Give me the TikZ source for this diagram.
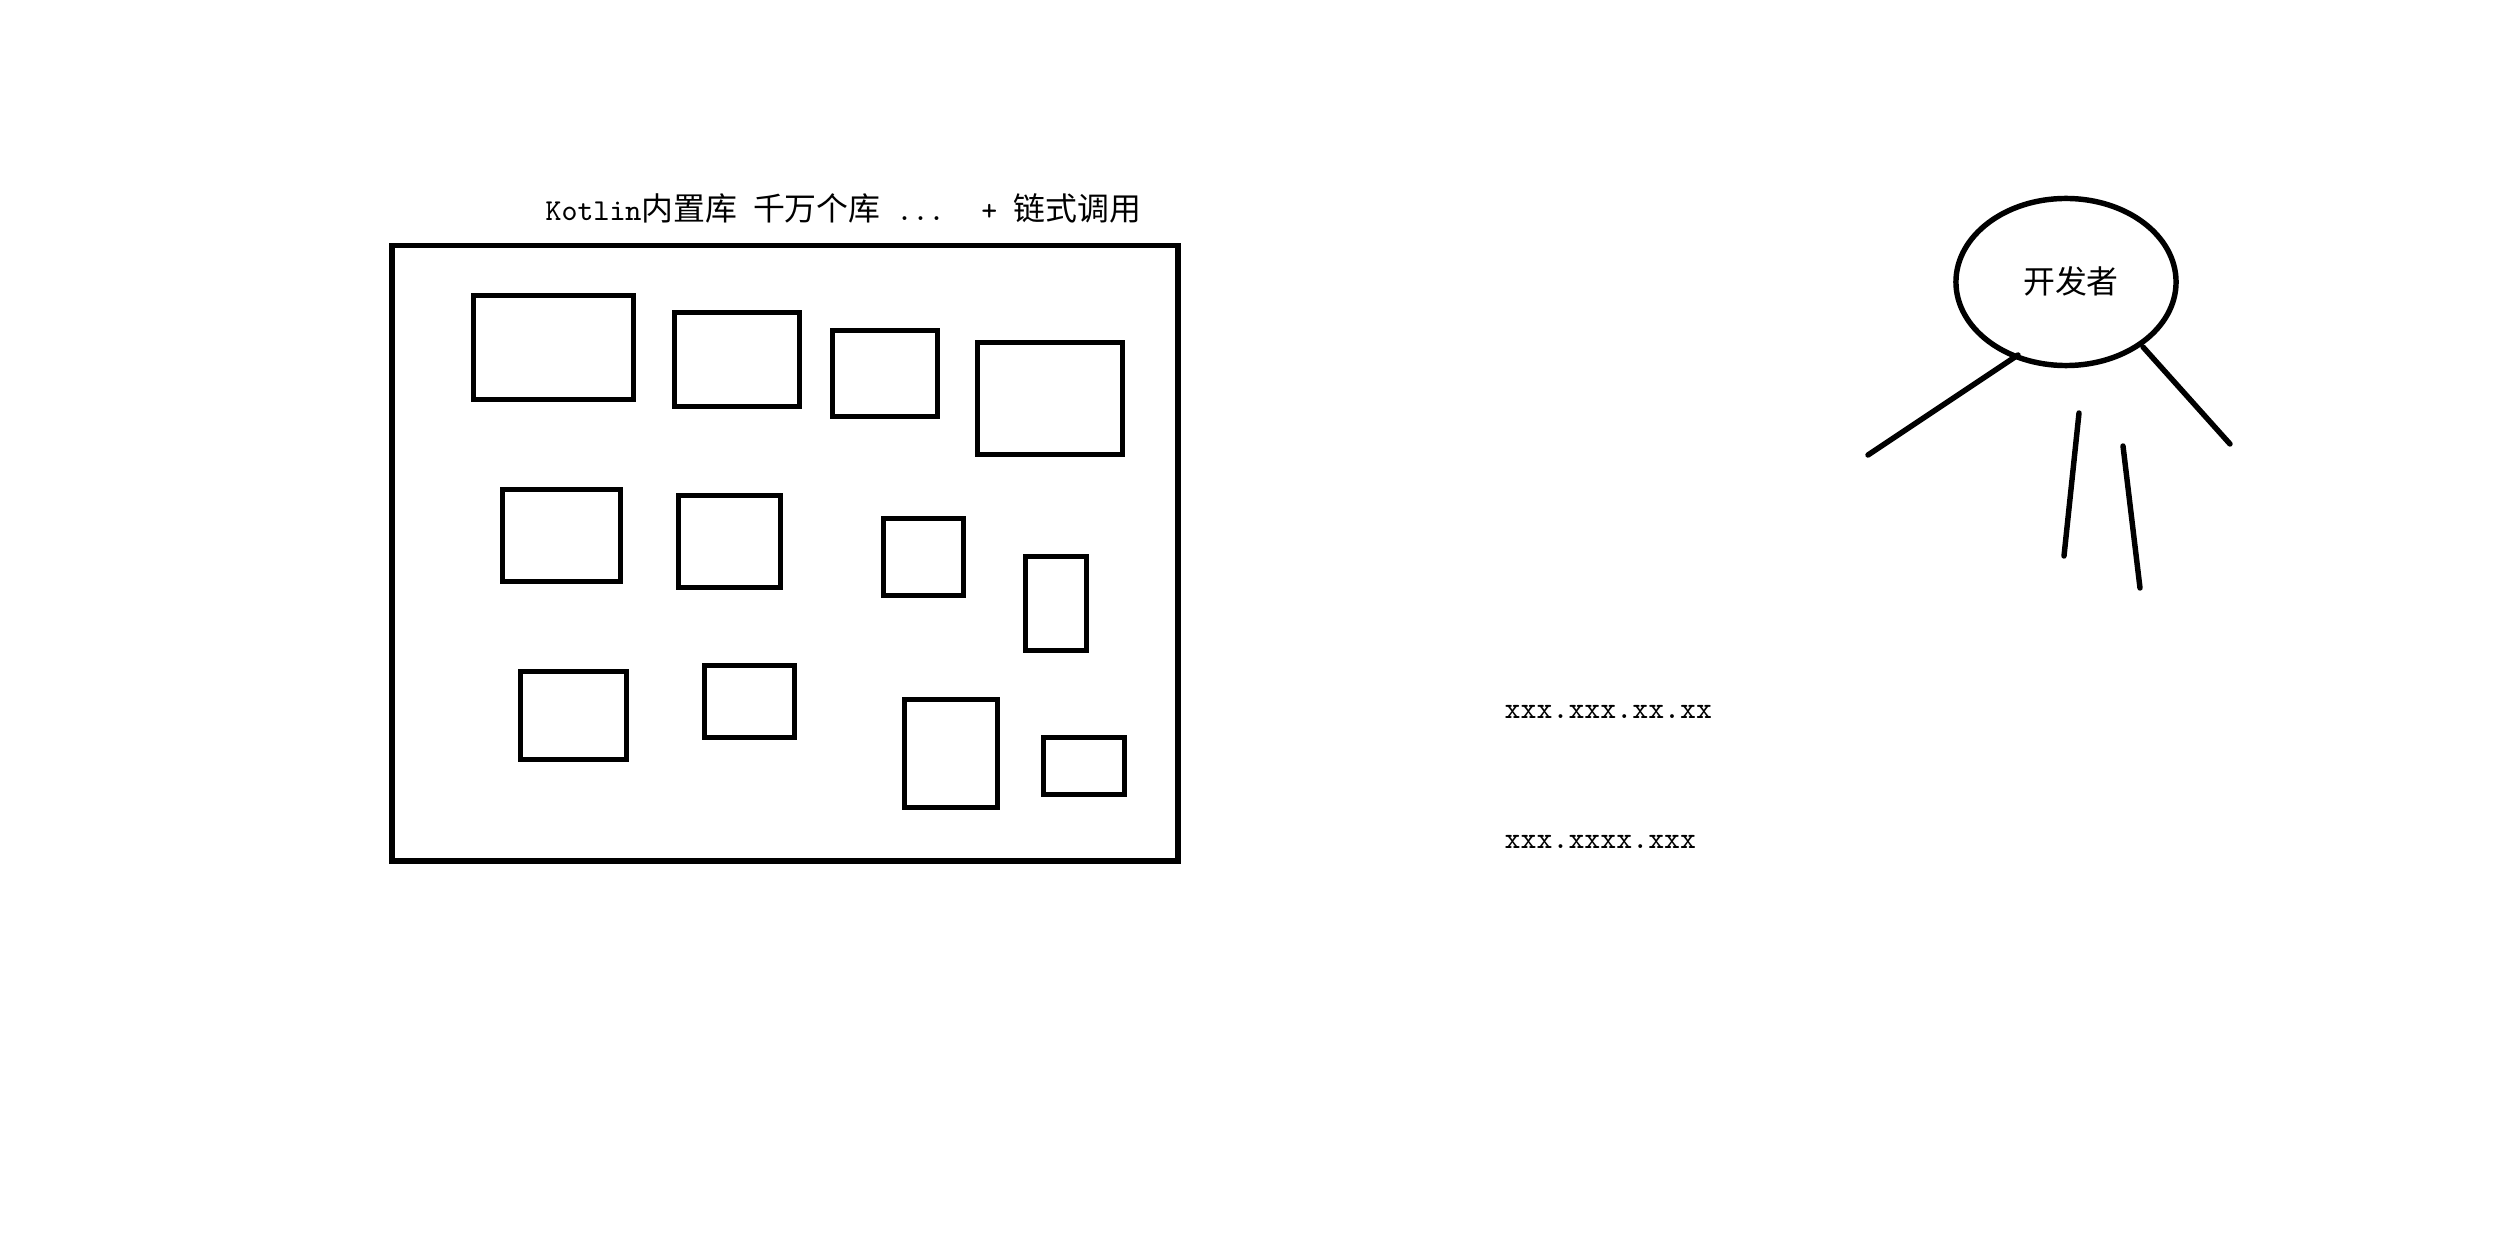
\documentclass[tikz,border=0pt]{standalone}
\usepackage{fontspec}
\usepackage{tikz}
\usetikzlibrary{shapes.geometric}
\newfontfamily\cjk[Scale=1.05]{Noto Sans CJK SC}

\begin{document}
\begin{tikzpicture}[x=0.01cm, y=-0.01cm,
    frame/.style={rectangle, draw=black, line width=1.7pt, inner sep=0pt, outer sep=0pt, anchor=north west},
    lib/.style={rectangle, draw=black, line width=1.55pt, inner sep=0pt, outer sep=0pt, anchor=north west},
    limb/.style={draw=black, line width=1.55pt, line cap=round},
    lbl/.style={font=\fontsize{8.64pt}{10pt}\ttfamily, inner sep=0pt, anchor=west}]

    \useasboundingbox (0,0) rectangle (2514,1252);

    % Title
    \node[lbl] (title) at (545,208) {Kotlin{\cjk 内置库}~{\cjk 千万个库}~...~~\hspace{0.05cm}+~{\cjk 链式调用}};

    % Big frame
    \node[frame, minimum width=7.86cm, minimum height=6.15cm] (stdlib) at (392,245.5) {};

    % Row 1
    \node[lib, minimum width=1.60cm, minimum height=1.04cm] (a1) at (473.5,295.5) {};
    \node[lib, minimum width=1.25cm, minimum height=0.94cm] (a2) at (674.5,312.5) {};
    \node[lib, minimum width=1.05cm, minimum height=0.86cm] (a3) at (832.5,330.5) {};
    \node[lib, minimum width=1.45cm, minimum height=1.12cm] (a4) at (977.5,342.5) {};

    % Row 2
    \node[lib, minimum width=1.18cm, minimum height=0.92cm] (b1) at (502.5,489.5) {};
    \node[lib, minimum width=1.02cm, minimum height=0.92cm] (b2) at (678.5,495.5) {};
    \node[lib, minimum width=0.80cm, minimum height=0.77cm] (b3) at (883.5,518.5) {};
    \node[lib, minimum width=0.61cm, minimum height=0.94cm] (b4) at (1025.5,556.5) {};

    % Row 3
    \node[lib, minimum width=1.06cm, minimum height=0.88cm] (c1) at (520.5,671.5) {};
    \node[lib, minimum width=0.90cm, minimum height=0.72cm] (c2) at (704.5,665.5) {};
    \node[lib, minimum width=0.93cm, minimum height=1.08cm] (c3) at (904.5,699.5) {};
    \node[lib, minimum width=0.81cm, minimum height=0.57cm] (c4) at (1043.5,737.5) {};

    % Call chains
    \node[lbl] (chain1) at (1504,712) {xxx.xxx.xx.xx};
    \node[lbl] (chain2) at (1504,842) {xxx.xxxx.xxx};

    % Developer
    \node[ellipse, draw=black, line width=1.55pt, inner sep=0pt, outer sep=0pt,
          minimum width=2.2cm, minimum height=1.67cm] (head) at (2066,282) {};
    \node[font=\fontsize{8.64pt}{10pt}\selectfont\cjk, inner sep=0pt] (dev) at (2071,281) {开发者};

    \coordinate (armL0) at (2018,355);
    \coordinate (armL1) at (1868,455);
    \coordinate (armR0) at (2143,347);
    \coordinate (armR1) at (2230,444);
    \coordinate (legL0) at (2079,413);
    \coordinate (legL1) at (2064,556);
    \coordinate (legR0) at (2123,446);
    \coordinate (legR1) at (2140,588);

    \draw[limb] (armL0) -- (armL1);
    \draw[limb] (armR0) -- (armR1);
    \draw[limb] (legL0) -- (legL1);
    \draw[limb] (legR0) -- (legR1);
\end{tikzpicture}
\end{document}
